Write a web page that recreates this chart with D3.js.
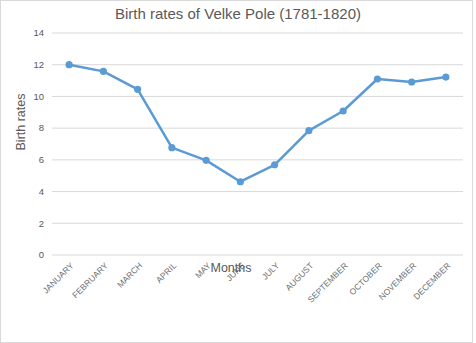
<!DOCTYPE html>
<html><head><meta charset="utf-8">
<script src="https://cdn.jsdelivr.net/npm/d3@7"></script>
<style>body{margin:0;background:#fff}svg{display:block;font-family:"Liberation Sans",Arial,sans-serif}</style>
</head><body>
<script>
const months = ["JANUARY","FEBRUARY","MARCH","APRIL","MAY","JUNE","JULY","AUGUST","SEPTEMBER","OCTOBER","NOVEMBER","DECEMBER"];
const birthRates = [12.0, 11.58, 10.45, 6.77, 5.97, 4.62, 5.69, 7.84, 9.08, 11.1, 10.91, 11.22];
const yTicks = [0, 2, 4, 6, 8, 10, 12, 14];
const title = "Birth rates of Velke Pole (1781-1820)";

const W = 476, H = 343;
const svg = d3.select("body").append("svg").attr("width", W).attr("height", H);
svg.append("rect").attr("x",0.5).attr("y",0.5).attr("width",472).attr("height",H-1)
  .attr("fill","#fff").attr("stroke","#d9d9d9");

const x = d3.scaleBand().domain(months).range([52, 463]);
const y = d3.scaleLinear().domain([0, 14]).range([255, 33]);
const grey = "#595959";

svg.append("g").selectAll("line").data(yTicks).join("line")
  .attr("x1", 52).attr("x2", 463).attr("y1", d => y(d)).attr("y2", d => y(d))
  .attr("stroke", "#d9d9d9").attr("stroke-width", 1);

svg.append("g").selectAll("text").data(yTicks).join("text")
  .attr("x", 44).attr("y", d => y(d)).attr("dy", "0.35em").attr("text-anchor", "end")
  .attr("font-size", 9.5).attr("fill", grey).text(d => d);

svg.append("g").selectAll("text").data(months).join("text")
  .attr("transform", d => `translate(${x(d) + x.bandwidth()/2 + 3},${264}) rotate(-45)`)
  .attr("text-anchor", "end").attr("dy", "0.35em")
  .attr("font-size", 8.5).attr("fill", "#6e6e6e").text(d => d);

const line = d3.line().x((d,i) => x(months[i]) + x.bandwidth()/2).y(d => y(d));
svg.append("path").datum(birthRates).attr("d", line)
  .attr("fill", "none").attr("stroke", "#5b9bd5").attr("stroke-width", 2.5)
  .attr("stroke-linejoin", "round").attr("stroke-linecap", "round");
svg.append("g").selectAll("circle").data(birthRates).join("circle")
  .attr("cx", (d,i) => x(months[i]) + x.bandwidth()/2).attr("cy", d => y(d))
  .attr("r", 3.6).attr("fill", "#5b9bd5");

svg.append("text").attr("x", 238).attr("y", 19).attr("text-anchor", "middle")
  .attr("font-size", 15).attr("fill", grey).text(title);
svg.append("text").attr("transform", "translate(25,122) rotate(-90)")
  .attr("text-anchor", "middle").attr("font-size", 12.5).attr("fill", grey).text("Birth rates");
svg.append("text").attr("x", 231).attr("y", 272).attr("text-anchor", "middle")
  .attr("font-size", 12.5).attr("fill", grey).text("Months");
</script>
</body></html>
